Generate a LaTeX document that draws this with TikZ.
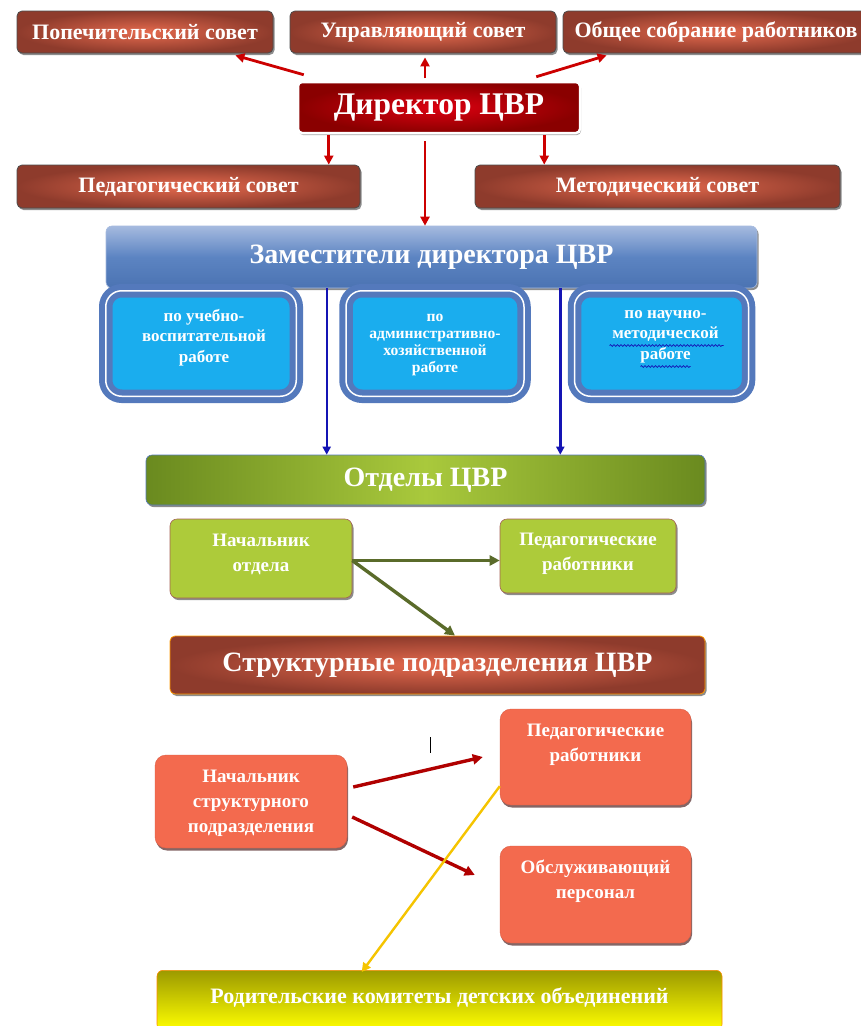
\documentclass[tikz,border=0pt]{standalone}
\usepackage{fontspec}
\setmainfont{Liberation Serif}
\usetikzlibrary{shadows,calc,arrows.meta,decorations.pathmorphing}
\definecolor{brin}{HTML}{E56A4E}
\definecolor{brout}{HTML}{8E3B2C}
\definecolor{dirin}{HTML}{DC0010}
\definecolor{dirout}{HTML}{8A0000}
\definecolor{zamtop}{HTML}{A5BADF}
\definecolor{zammid}{HTML}{5C84C2}
\definecolor{zambot}{HTML}{4B73B2}
\definecolor{ring}{HTML}{5479BC}
\definecolor{cyanbox}{HTML}{1AADEE}
\definecolor{grdark}{HTML}{6A8A1F}
\definecolor{grlight}{HTML}{A9C93C}
\definecolor{limebox}{HTML}{ADCB3A}
\definecolor{coral}{HTML}{F36A4E}
\definecolor{olive}{HTML}{9C9A00}
\definecolor{yel}{HTML}{FFFF00}
\definecolor{arrred}{HTML}{CC0000}
\definecolor{arrblue}{HTML}{1414B4}
\definecolor{arrgreen}{HTML}{5A6B2A}
\definecolor{arrdred}{HTML}{B00000}
\definecolor{arryel}{HTML}{F5C400}
\begin{document}
\begin{tikzpicture}[x=1pt,y=-1pt,
  fsz/.style 2 args={font=\fontsize{#1}{#2}\selectfont\bfseries},
  shad/.style={drop shadow={shadow xshift=1.5pt,shadow yshift=-2pt,fill=black,opacity=.45}},
  brownbox/.style={rounded corners=5pt, draw=black!70, line width=.8pt, inner color=brin, outer color=brout, shad, text=white, align=center},
  dirbox/.style={rounded corners=4pt, draw=white, line width=2.5pt, inner color=dirin, outer color=dirout, drop shadow={shadow xshift=1pt,shadow yshift=-2pt,fill=black,opacity=.35}, text=white},
  zambox/.style={rounded corners=6pt, draw=zamtop, line width=.6pt, top color=zamtop, bottom color=zambot, middle color=zammid, shad, text=white},
  subbox/.style={rounded corners=16pt, draw=ring, line width=6pt, double=white, double distance=1.5pt, fill=cyanbox},
  subtxt/.style={text=white, align=center, fsz={17}{20.5}},
  otdbox/.style={rounded corners=6pt, draw=ring, line width=.6pt, left color=grdark, right color=grdark, middle color=grlight, shad, text=white},
  limeb/.style={rounded corners=7pt, draw=brout!80, line width=.6pt, fill=limebox, shad},
  limetxt/.style={text=white, align=center, fsz={19}{25}},
  strbox/.style={rounded corners=5pt, draw=orange!80!yellow, line width=.8pt, inner color=brin, outer color=brout, shad, text=white},
  coralb/.style={rounded corners=11pt, draw=coral!90!black, line width=.4pt, fill=coral, drop shadow={shadow xshift=1pt,shadow yshift=-2.5pt,fill=black!80!red,opacity=.6}},
  coraltxt/.style={text=white, align=center, fsz={19}{25}},
  rodbox/.style={rounded corners=6pt, draw=orange!90!yellow, line width=.6pt, top color=olive, bottom color=yel, text=white},
  redarr/.style={draw=arrred, line width=2.8pt, -{Triangle[length=9pt,width=9pt]}},
  bluearr/.style={draw=arrblue, line width=2.4pt, -{Triangle[length=8pt,width=8pt]}},
  grarr/.style={draw=arrgreen, line width=3.4pt, -{Triangle[length=10pt,width=10pt]}},
  dredarr/.style={draw=arrdred, line width=3.4pt, -{Triangle[length=10pt,width=10pt]}},
  yelarr/.style={draw=arryel, line width=2.4pt, -{Triangle[length=9pt,width=9pt]}},
  wavy/.style={draw=arrblue, line width=.7pt, decorate, decoration={snake, amplitude=.9pt, segment length=3.5pt}}
]
\useasboundingbox (0,0) rectangle (861,1026);
\fill[white] (0,0) rectangle (861,1026);

% top row
\node[brownbox, minimum width=256pt, minimum height=42pt, fsz={22}{26}] (pop) at (145,32) {Попечительский совет};
\node[brownbox, minimum width=266pt, minimum height=42pt, fsz={22}{26}] (upr) at (423,32) {Управляющий совет};
\node[brownbox, minimum width=306pt, minimum height=42pt, fsz={22}{26}] (obs) at (716,32) {Общее собрание работников};

% director
\node[dirbox, minimum width=282pt, minimum height=51pt, fsz={31.5}{36}] (dir) at (439,107.5) {Директор ЦВР};

% councils
\node[brownbox, minimum width=343pt, minimum height=43pt, fsz={22}{26}] (ped) at (188.5,186.5) {Педагогический совет};
\node[brownbox, minimum width=365pt, minimum height=43pt, fsz={22}{26}] (met) at (657.5,186.5) {Методический совет};

% deputies
\node[zambox, minimum width=651pt, minimum height=62pt, fsz={28}{32}] (zam) at (431.5,257) {Заместители директора ЦВР};

% departments
\node[otdbox, minimum width=559pt, minimum height=50pt, fsz={28}{32}] (otd) at (425.5,480) {Отделы ЦВР};

% blue arrows
\draw[bluearr] ($(zam.south west)+(221,0)$) -- ($(otd.north west)+(181,0)$);
\draw[bluearr] ($(zam.south east)+(-197,0)$) -- ($(otd.north east)+(-145,0)$);

\node[subbox, minimum width=190.5pt, minimum height=105.5pt] (sub1) at (201,343.5) {};
\node[subtxt] (sub1t) at ($(sub1.center)+(3,-6)$) {по учебно-\\воспитательной\\работе};
\node[subbox, minimum width=178pt, minimum height=105.5pt] (sub2) at (435,343.5) {};
\node[subtxt, fsz={15.6}{17}] (sub2t) at ($(sub2.center)+(0,1)$) {по\\административно-\\хозяйственной\\работе};
\node[subbox, minimum width=174pt, minimum height=105.5pt] (sub3) at (661.5,343.5) {};
\node[subtxt] (sub3t) at ($(sub3.center)+(4,-7)$) {по научно-\\методической\\работе};
\draw[wavy] ($(sub3t.center)+(-56,9)$) -- ($(sub3t.center)+(58,9)$);
\draw[wavy] ($(sub3t.center)+(-25,30)$) -- ($(sub3t.center)+(25,30)$);

\node[limeb, minimum width=182pt, minimum height=79pt] (nach) at (261,558.5) {};
\node[limetxt] (nacht) at ($(nach.center)+(0,-4)$) {Начальник\\отдела};
\node[limeb, minimum width=176pt, minimum height=74pt] (pedg) at (588,556) {};
\node[limetxt] (pedgt) at ($(pedg.center)+(0,-2)$) {Педагогические\\работники};
\node[strbox, minimum width=535pt, minimum height=58pt, fsz={28}{32}] (str) at (437.5,665) {Структурные подразделения ЦВР};

\draw[grarr] ($(nach.east)+(0,2)$) -- ($(pedg.west)+(0,4.5)$);
\draw[grarr] ($(nach.east)+(0,2)$) -- ($(str.north)+(17.5,0)$);

% structural units
\node[coralb, minimum width=192pt, minimum height=93pt] (nachs) at (251,801.5) {};
\node[coraltxt] (nachst) at ($(nachs.center)+(0,2)$) {Начальник\\структурного\\подразделения};
\node[coralb, minimum width=191pt, minimum height=96pt] (pedr) at (595.5,757) {};
\node[coraltxt, anchor=north] (pedrt) at ($(pedr.north)+(0,12)$) {Педагогические\\работники};
\node[coralb, minimum width=191pt, minimum height=97pt] (obsl) at (595.5,894.5) {};
\node[coraltxt, anchor=north] (obslt) at ($(obsl.north)+(0,11)$) {Обслуживающий\\персонал};

\node[rodbox, minimum width=565pt, minimum height=60pt, fsz={22}{26}, anchor=north] (rod) at (439.5,970) {\raisebox{10pt}{Родительские комитеты детских объединений}};

\draw[dredarr] ($(nachs.east)+(6,-14.5)$) -- ($(pedr.west)+(-17,0)$);
\draw[dredarr] ($(nachs.east)+(5,15.5)$) -- ($(obsl.west)+(-25,-19.5)$);
\draw[yelarr] ($(pedr.south west)+(0,-19)$) -- ($(rod.north west)+(205,2)$);

% text cursor mark
\draw[black, line width=.9pt] (430,737) -- (430,753);

% director arrows
\draw[redarr] ($(dir.north west)+(7,-6)$) -- ($(pop.south east)+(-38,2)$);
\draw[redarr] ($(upr.south)+(2,25)$) -- ($(upr.south)+(2,4)$);
\draw[redarr] ($(dir.north east)+(-45,-4)$) -- ($(obs.south west)+(44,2)$);
\coordinate (d1) at ($(dir.south west)+(32,1)$);
\coordinate (d2) at ($(dir.south east)+(-37,1)$);
\draw[redarr] (d1) -- (d1 |- ped.north);
\draw[redarr] ($(dir.south)+(-14,7)$) -- ($(zam.north)+(-6.5,0)$);
\draw[redarr] (d2) -- (d2 |- met.north);
\end{tikzpicture}
\end{document}
